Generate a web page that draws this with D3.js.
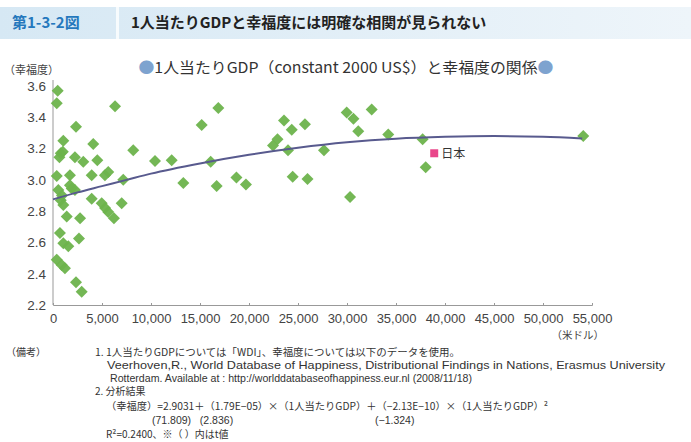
<!DOCTYPE html>
<html>
<head>
<meta charset="utf-8">
<script src="https://cdn.jsdelivr.net/npm/d3@7"></script>
<style>
  body { margin: 0; background: #fff; }
  text { font-family: "Noto Sans CJK JP", "Noto Sans", sans-serif; }
  .lat { font-family: "Liberation Sans", Arial, sans-serif; }
</style>
</head>
<body>
<div id="chart"></div>
<script>
// per-capita GDP (US$) and happiness score
const gdp = [480, 380, 6330, 2350, 1050, 4110, 790, 660, 2240, 3090,
  4520, 8190, 10410, 12110, 15170, 16870, 16090, 13300, 16700, 18720,
  19690, 22450, 22910, 23570, 24360, 25710, 23980, 24460, 25970, 27650,
  29970, 30660, 32520, 31150, 34210, 30310, 37720, 38030, 54110,
  380, 1730, 3950, 5640, 5300, 7170, 540, 1910, 2240, 790,
  1050, 1400, 2760, 3950, 4970, 5310, 5640, 6220, 7010, 710,
  1050, 1560, 2650, 380, 890, 1220, 2350, 2930, 1730, 920, 1000];
const happiness = [3.57, 3.49, 3.47, 3.34, 3.25, 3.23, 3.17, 3.145, 3.145, 3.115,
  3.125, 3.19, 3.12, 3.125, 3.35, 3.46, 3.115, 2.98, 2.96, 3.015,
  2.97, 3.22, 3.26, 3.38, 3.32, 3.355, 3.19, 3.02, 3.005, 3.19,
  3.43, 3.39, 3.45, 3.31, 3.29, 2.89, 3.26, 3.08, 3.28,
  3.025, 3.03, 3.03, 3.05, 3.03, 3.0, 2.935, 2.945, 2.935, 2.87,
  2.84, 2.765, 2.755, 2.88, 2.85, 2.82, 2.795, 2.755, 2.85, 2.66,
  2.595, 2.575, 2.625, 2.49, 2.455, 2.435, 2.345, 2.285, 2.965, 2.9, 3.18];

// Japan
const japanGdp = 38900, japanHappiness = 3.17;

// fitted curve as drawn
const trendGdp = [0, 2500, 5000, 7500, 10000, 15000, 20000, 25000, 30000, 35000, 40000, 45000, 50000, 54000];
const trendHappiness = [2.875, 2.92, 2.96, 3.0, 3.04, 3.105, 3.16, 3.205, 3.24, 3.263, 3.275, 3.28, 3.275, 3.265];

const xTicks = [0, 5000, 10000, 15000, 20000, 25000, 30000, 35000, 40000, 45000, 50000, 55000];
const yTicks = [2.2, 2.4, 2.6, 2.8, 3.0, 3.2, 3.4, 3.6];

const notes = [
  "1. 1人当たりGDPについては「WDI」、幸福度については以下のデータを使用。",
  "Veerhoven,R., World Database of Happiness, Distributional Findings in Nations, Erasmus University",
  "Rotterdam. Available at : http://worlddatabaseofhappiness.eur.nl (2008/11/18)",
  "2. 分析結果",
  "（幸福度）=2.9031＋（1.79E−05）×（1人当たりGDP）＋（−2.13E−10）×（1人当たりGDP）²",
  "(71.809)   (2.836)",
  "(−1.324)",
  "R²=0.2400、※（  ）内はt値"
];

let width = 691, height = 442;

let svg = d3.select("#chart").append("svg")
  .attr("width", width)
  .attr("height", height);

// header band
let grad = svg.append("defs").append("linearGradient").attr("id", "hdr");
grad.append("stop").attr("offset", "0%").attr("stop-color", "#d6e8f4");
grad.append("stop").attr("offset", "100%").attr("stop-color", "#eef5fa");
svg.append("rect").attr("x", 0).attr("y", 7).attr("width", width).attr("height", 32).attr("fill", "url(#hdr)");
svg.append("rect").attr("x", 116).attr("y", 7).attr("width", 3).attr("height", 32).attr("fill", "#f7fbfd");
svg.append("text").attr("x", 12).attr("y", 28).attr("font-size", "15px").attr("font-weight", "bold")
  .attr("fill", "#2478bd").text("第1-3-2図");
svg.append("text").attr("x", 131).attr("y", 28).attr("font-size", "15px").attr("font-weight", "bold")
  .attr("fill", "#222").text("1人当たりGDPと幸福度には明確な相関が見られない");

// chart title
let title = svg.append("text").attr("x", 346).attr("y", 73).attr("text-anchor", "middle")
  .attr("font-size", "15px").attr("fill", "#333")
  .attr("textLength", 415).attr("lengthAdjust", "spacingAndGlyphs");
title.append("tspan").attr("fill", "#7ea3cf").text("●");
title.append("tspan").text("1人当たりGDP（constant 2000 US$）と幸福度の関係");
title.append("tspan").attr("fill", "#7ea3cf").text("●");

let x = d3.scaleLinear().domain([0, 55000]).range([53, 592]);
let y = d3.scaleLinear().domain([2.2, 3.6]).range([305, 86]);

// axes
let xAxis = svg.append("g")
  .attr("transform", "translate(0,305)")
  .call(d3.axisBottom(x).tickValues(xTicks).tickSize(-2).tickPadding(9).tickFormat(d3.format(",")));
xAxis.select(".domain").attr("stroke", "#999");
xAxis.selectAll(".tick line").attr("stroke", "#999");
xAxis.selectAll("text").attr("font-size", "13px").attr("fill", "#444").attr("class", "lat");

let yAxis = svg.append("g")
  .attr("transform", "translate(53,0)")
  .call(d3.axisLeft(y).tickValues(yTicks).tickSize(0).tickPadding(7).tickFormat(d3.format(".1f")));
yAxis.select(".domain").attr("stroke", "#999").attr("d", "M0,305V80");
yAxis.selectAll("text").attr("font-size", "13.5px").attr("fill", "#444").attr("class", "lat");

svg.append("text").attr("x", 4).attr("y", 74).attr("font-size", "11px").attr("fill", "#444").text("（幸福度）");
svg.append("text").attr("x", 604).attr("y", 339).attr("text-anchor", "end").attr("font-size", "10.5px")
  .attr("fill", "#444").text("（米ドル）");

// points
let diamond = "M0,-6L6,0L0,6L-6,0Z";
svg.append("g").selectAll("path")
  .data(d3.range(gdp.length))
  .enter()
  .append("path")
  .attr("d", diamond)
  .attr("transform", i => `translate(${x(gdp[i])},${y(happiness[i])})`)
  .attr("fill", "#6db34c")
  .attr("opacity", 0.95);

// trend curve
let line = d3.line().x(i => x(trendGdp[i])).y(i => y(trendHappiness[i])).curve(d3.curveMonotoneX);
svg.append("path")
  .attr("d", line(d3.range(trendGdp.length)))
  .attr("fill", "none")
  .attr("stroke", "#585a8e")
  .attr("stroke-width", 2);

// Japan
svg.append("rect")
  .attr("x", x(japanGdp) - 4).attr("y", y(japanHappiness) - 4)
  .attr("width", 8).attr("height", 8)
  .attr("fill", "#e9468a");
svg.append("text").attr("x", x(japanGdp) + 7).attr("y", y(japanHappiness) + 5)
  .attr("font-size", "12px").attr("fill", "#333").text("日本");

// notes
let nt = svg.append("g").attr("font-size", "10px").attr("fill", "#333");
nt.append("text").attr("x", 6).attr("y", 356).text("（備考）");
nt.append("text").attr("x", 95).attr("y", 356).attr("textLength", 365).attr("lengthAdjust", "spacingAndGlyphs").text(notes[0]);
nt.append("text").attr("x", 107).attr("y", 369).attr("class", "lat").attr("font-size", "10.5px")
  .attr("textLength", 558).attr("lengthAdjust", "spacingAndGlyphs").text(notes[1]);
nt.append("text").attr("x", 110).attr("y", 382).attr("class", "lat").attr("font-size", "10.5px")
  .attr("textLength", 362).attr("lengthAdjust", "spacingAndGlyphs").text(notes[2]);
nt.append("text").attr("x", 95).attr("y", 395).text(notes[3]);
nt.append("text").attr("x", 106).attr("y", 410).attr("textLength", 442).attr("lengthAdjust", "spacingAndGlyphs").text(notes[4]);
nt.append("text").attr("x", 152).attr("y", 424).attr("class", "lat").attr("font-size", "10.5px").attr("xml:space", "preserve").text(notes[5]);
nt.append("text").attr("x", 375).attr("y", 424).attr("class", "lat").attr("font-size", "10.5px").text(notes[6]);
nt.append("text").attr("x", 106).attr("y", 438).text(notes[7]);
</script>
</body>
</html>
